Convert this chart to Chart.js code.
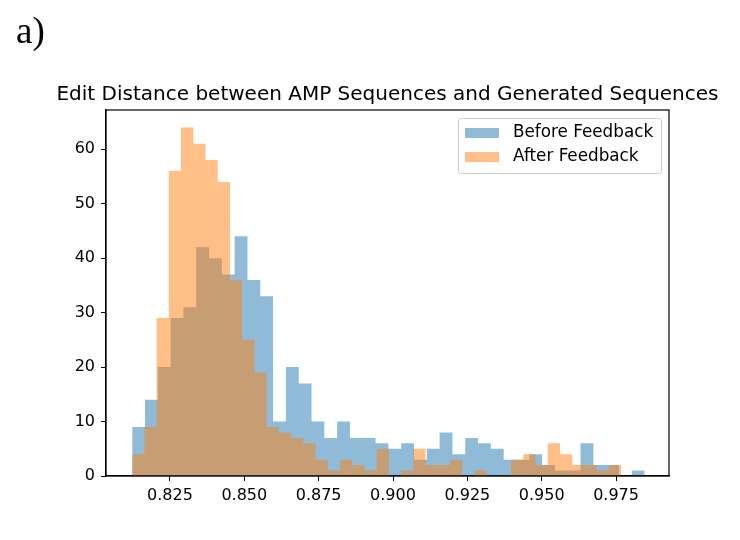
<!DOCTYPE html>
<html>
<head>
<meta charset="utf-8">
<script src="https://cdn.jsdelivr.net/npm/chart.js@4"></script>
<style>
  body { margin: 0; background: #fff; }
  #wrap { position: relative; width: 740px; height: 540px; }
  #panel { position: absolute; left: 16px; top: 12px; font: 37px/1 "Liberation Serif", serif; color: #000; }
</style>
</head>
<body>
<div id="wrap">
  <canvas id="histChart" width="740" height="540"></canvas>
  <div id="panel">a)</div>
</div>
<script>
const titleText = 'Edit Distance between AMP Sequences and Generated Sequences';
const seriesNames = ['Before Feedback', 'After Feedback'];

// counts per bin (40 bins each)
const beforeCounts = [9, 14, 20, 29, 31, 42, 40, 37, 44, 36,
                      33, 10, 20, 17, 10, 7, 10, 7, 7, 6,
                      5, 6, 3, 5, 8, 4, 7, 6, 5, 3,
                      3, 4, 2, 1, 1, 6, 2, 2, 0, 1];
const afterCounts = [4, 9, 29, 56, 64, 61, 58, 54, 36, 25,
                     19, 9, 8, 7, 6, 3, 1, 3, 2, 1,
                     5, 0, 1, 5, 2, 2, 3, 0, 1, 0,
                     0, 3, 4, 2, 6, 4, 2, 2, 1, 2];
const beforeRange = [0.8123, 0.9846];
const afterRange = [0.8123, 0.9767];

const xTicks = [0.825, 0.850, 0.875, 0.900, 0.925, 0.950, 0.975];
const yTicks = [0, 10, 20, 30, 40, 50, 60];

const blueFill = 'rgba(31, 119, 180, 0.5)';
const orangeFill = 'rgba(255, 127, 14, 0.5)';
const font = 'DejaVu Sans';

// bin edges -> step points
function histPoints(counts, range) {
    const w = (range[1] - range[0]) / counts.length;
    const pts = counts.map((c, i) => ({ x: range[0] + i * w, y: c }));
    pts.push({ x: range[1], y: counts[counts.length - 1] });
    return pts;
}

const framePlugin = {
    id: 'frame',
    afterDatasetsDraw(chart) {
        const a = chart.chartArea;
        const ctx = chart.ctx;
        ctx.save();
        ctx.strokeStyle = '#000';
        ctx.lineWidth = 1.2;
        ctx.strokeRect(a.left, a.top, a.right - a.left, a.bottom - a.top);
        ctx.restore();
    }
};

// title centred over the axes, not squeezed
const axesTitle = {
    id: 'axesTitle',
    afterDraw(chart) {
        const a = chart.chartArea;
        const ctx = chart.ctx;
        ctx.save();
        ctx.font = '20px "' + font + '"';
        ctx.fillStyle = '#000';
        ctx.textAlign = 'center';
        ctx.textBaseline = 'alphabetic';
        ctx.fillText(titleText, (a.left + a.right) / 2, a.top - 10);
        ctx.restore();
    }
};

const boxLegend = {
    id: 'boxLegend',
    afterDraw(chart) {
        const a = chart.chartArea;
        const ctx = chart.ctx;
        const w = 203, h = 55;
        const x = a.right - 8 - w, y = a.top + 8;
        ctx.save();
        ctx.fillStyle = 'rgba(255,255,255,0.8)';
        ctx.strokeStyle = '#cccccc';
        ctx.lineWidth = 1;
        ctx.beginPath();
        ctx.roundRect(x + 0.5, y + 0.5, w, h, 3);
        ctx.fill();
        ctx.stroke();
        const colors = [blueFill, orangeFill];
        ctx.font = '16.8px "' + font + '"';
        ctx.textBaseline = 'middle';
        for (let i = 0; i < seriesNames.length; i++) {
            const cy = y + 15 + i * 24;
            ctx.fillStyle = colors[i];
            ctx.fillRect(x + 7, cy - 5, 34, 10);
            ctx.fillStyle = '#000';
            ctx.fillText(seriesNames[i], x + 55, cy);
        }
        ctx.restore();
    }
};

new Chart(document.getElementById('histChart'), {
    type: 'line',
    data: {
        datasets: [
            {
                label: seriesNames[0],
                data: histPoints(beforeCounts, beforeRange),
                stepped: true,
                fill: 'origin',
                backgroundColor: blueFill,
                borderColor: 'transparent',
                borderWidth: 0,
                pointRadius: 0,
                order: 1
            },
            {
                label: seriesNames[1],
                data: histPoints(afterCounts, afterRange),
                stepped: true,
                fill: 'origin',
                backgroundColor: orangeFill,
                borderColor: 'transparent',
                borderWidth: 0,
                pointRadius: 0,
                order: 0
            }
        ]
    },
    options: {
        responsive: false,
        animation: false,
        layout: { padding: { left: 0, right: 71, top: 110, bottom: 0 } },
        plugins: {
            legend: { display: false },
            tooltip: { enabled: false },
            title: { display: false }
        },
        scales: {
            x: {
                type: 'linear',
                min: 0.8035,
                max: 0.9928,
                afterFit: function (scale) { scale.height = 64; },
                afterBuildTicks: function (scale) { scale.ticks = xTicks.map(v => ({ value: v })); },
                grid: { display: true, drawOnChartArea: false, drawTicks: true, tickLength: 5, color: '#000' },
                border: { display: true, color: '#000', width: 1.2 },
                ticks: {
                    color: '#000',
                    padding: 5,
                    maxRotation: 0,
                    font: { family: font, size: 16 },
                    callback: v => v.toFixed(3)
                }
            },
            y: {
                min: 0,
                max: 67.2,
                afterFit: function (scale) { scale.width = 106; },
                afterBuildTicks: function (scale) { scale.ticks = yTicks.map(v => ({ value: v })); },
                grid: { display: true, drawOnChartArea: false, drawTicks: true, tickLength: 5, color: '#000' },
                border: { display: true, color: '#000', width: 1.2 },
                ticks: {
                    color: '#000',
                    padding: 6,
                    font: { family: font, size: 16 }
                }
            }
        }
    },
    plugins: [framePlugin, axesTitle, boxLegend]
});
</script>
</body>
</html>
